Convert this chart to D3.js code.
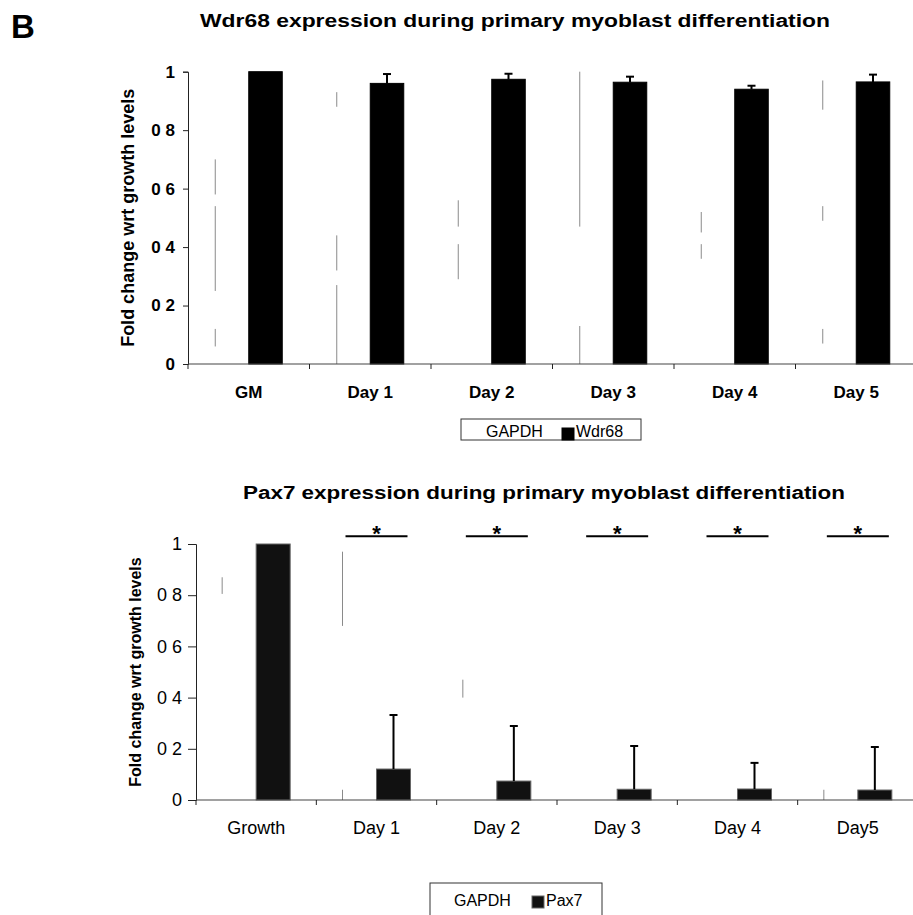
<!DOCTYPE html>
<html><head><meta charset="utf-8">
<script src="https://cdn.jsdelivr.net/npm/d3@7"></script>
<style>body{margin:0;background:#fff}svg{display:block}text{font-family:Arial,"Liberation Sans",sans-serif}</style>
</head><body><svg id="c" width="913" height="915"></svg>
<script>
// ---- Data ----
const topCategories = ["GM","Day 1","Day 2","Day 3","Day 4","Day 5"];
const topGapdh = [1,1,1,1,1,1];
const topWdr68 = [1.0,0.960,0.974,0.964,0.940,0.965];
const topWdr68Err = [0.0,0.032,0.019,0.019,0.012,0.025];
// faint visible fragments of the white GAPDH bars' left edges (value ranges)
const topGapdhEdge = [[[0.70,0.58],[0.54,0.25],[0.12,0.06]],[[0.93,0.88],[0.44,0.32],[0.27,0.0]],[[0.56,0.47],[0.41,0.29]],[[1.0,0.47],[0.13,0.0]],[[0.52,0.45],[0.41,0.36]],[[0.97,0.87],[0.54,0.49],[0.12,0.07]]];
const topTickValues = [0,0.2,0.4,0.6,0.8,1];
const topTickLabels = ["0","0 2","0 4","0 6","0 8","1"];

const botCategories = ["Growth","Day 1","Day 2","Day 3","Day 4","Day5"];
const botGapdh = [1,1,1,1,1,1];
const botPax7 = [1.0,0.121,0.074,0.042,0.043,0.039];
const botPax7Err = [0.0,0.211,0.215,0.169,0.102,0.168];
const botGapdhEdge = [[[0.87,0.805]],[[0.97,0.68],[0.04,0.0]],[[0.47,0.40]],[],[],[[0.04,0.0]]];
const botSignificant = [false,true,true,true,true,true];
const botTickValues = [0,0.2,0.4,0.6,0.8,1];
const botTickLabels = ["0","0 2","0 4","0 6","0 8","1"];

const svg = d3.select("#c");
const FF = 'Arial,"Liberation Sans",sans-serif';

svg.append("text").attr("x",11).attr("y",38).attr("font-size",33).attr("font-weight","bold").text("B");

function drawChart(o){
  const g = svg.append("g");
  const x = d3.scaleBand().domain(o.cats).range([o.left,o.right]).padding(0);
  const y = d3.scaleLinear().domain([0,1]).range([o.bottom,o.top]);
  const bw = o.barW;
  // title
  g.append("text").attr("x",o.titleX).attr("y",o.titleY).attr("text-anchor","middle")
    .attr("font-size",18).attr("font-weight","bold")
    .attr("textLength",o.titleW).attr("lengthAdjust","spacingAndGlyphs").text(o.title);
  // GAPDH white bars
  g.selectAll(".gap").data(o.cats).join("rect")
    .attr("x",d=>x(d)+x.bandwidth()/2-bw).attr("width",bw)
    .attr("y",(d,i)=>y(o.gapdh[i])).attr("height",(d,i)=>y(0)-y(o.gapdh[i]))
    .attr("fill","#fff");
  // faint edge fragments
  o.cats.forEach((c,i)=>{
    o.edges[i].forEach(s=>{
      g.append("line").attr("x1",x(c)+x.bandwidth()/2-bw).attr("x2",x(c)+x.bandwidth()/2-bw)
        .attr("y1",y(s[0])).attr("y2",y(s[1])).attr("stroke","#8a8a8a").attr("stroke-width",1);
    });
  });
  // series bars
  g.selectAll(".ser").data(o.cats).join("rect")
    .attr("x",d=>x(d)+x.bandwidth()/2).attr("width",bw)
    .attr("y",(d,i)=>y(o.vals[i])).attr("height",(d,i)=>y(0)-y(o.vals[i]))
    .attr("fill",o.fill).attr("stroke",o.stroke).attr("stroke-width",1);
  // error bars
  o.cats.forEach((c,i)=>{
    if(o.err[i]<=0) return;
    const cx = x(c)+x.bandwidth()/2+bw/2;
    g.append("line").attr("x1",cx).attr("x2",cx).attr("y1",y(o.vals[i])).attr("y2",y(o.vals[i]+o.err[i]))
      .attr("stroke","#000").attr("stroke-width",2);
    g.append("line").attr("x1",cx-4).attr("x2",cx+4).attr("y1",y(o.vals[i]+o.err[i])).attr("y2",y(o.vals[i]+o.err[i]))
      .attr("stroke","#000").attr("stroke-width",2);
  });
  // y axis
  const ya = g.append("g").attr("transform",`translate(${o.left},0)`)
    .call(d3.axisLeft(y).tickValues(o.tickValues).tickSize(o.tickLen).tickPadding(o.tickPad)
      .tickFormat((d,i)=>o.tickLabels[i]));
  ya.select(".domain").attr("stroke","#222");
  ya.selectAll(".tick line").attr("stroke","#222");
  ya.selectAll("text").attr("font-size",o.tickFont).attr("font-weight",o.tickWeight).attr("fill","#000").attr("font-family",FF);
  // x axis
  g.append("line").attr("x1",o.left).attr("x2",913).attr("y1",y(0)).attr("y2",y(0)).attr("stroke","#444").attr("stroke-width",1.2);
  o.cats.forEach(c=>{
    g.append("line").attr("x1",x(c)).attr("x2",x(c)).attr("y1",y(0)).attr("y2",y(0)+5).attr("stroke","#222");
    g.append("text").attr("x",x(c)+x.bandwidth()/2).attr("y",o.xLabY).attr("text-anchor","middle")
      .attr("font-size",o.xFont).attr("font-weight",o.xWeight).text(c);
  });
  // y label
  g.append("text").attr("transform",`translate(${o.yLabX},${(o.top+o.bottom)/2}) rotate(-90)`)
    .attr("text-anchor","middle").attr("font-size",o.yLabFont).attr("font-weight","bold").text(o.yLabel);
  // significance
  if(o.sig){
    o.cats.forEach((c,i)=>{
      if(!o.sig[i]) return;
      const cx = x(c)+x.bandwidth()/2;
      g.append("line").attr("x1",cx-31).attr("x2",cx+31).attr("y1",y(1.03)).attr("y2",y(1.03)).attr("stroke","#000").attr("stroke-width",2);
      g.append("text").attr("x",cx).attr("y",y(1.03)+5).attr("text-anchor","middle").attr("font-size",22).attr("font-weight","bold").text("*");
    });
  }
  // legend
  const L = o.legend;
  g.append("rect").attr("x",L.x).attr("y",L.y).attr("width",L.w).attr("height",L.h).attr("fill","#fff").attr("stroke","#333").attr("stroke-width",1);
  g.append("text").attr("x",L.tx).attr("y",L.ty).attr("font-size",16).text("GAPDH");
  g.append("rect").attr("x",L.sx).attr("y",L.sy).attr("width",L.ss).attr("height",L.ss).attr("fill",o.fill).attr("stroke",o.stroke);
  g.append("text").attr("x",L.sx+L.ss+2).attr("y",L.ty).attr("font-size",16).text(o.series);
}

drawChart({cats:topCategories,gapdh:topGapdh,vals:topWdr68,err:topWdr68Err,edges:topGapdhEdge,
  left:188,right:917,top:71.7,bottom:364,barW:33.5,fill:"#000",stroke:"#000",
  title:"Wdr68 expression during primary myoblast differentiation",titleX:515,titleY:27,titleW:630,
  tickValues:topTickValues,tickLabels:topTickLabels,tickLen:5,tickPad:8,tickFont:17,tickWeight:"bold",
  xLabY:398,xFont:17,xWeight:"bold",yLabX:134,yLabFont:18,yLabel:"Fold change wrt growth levels",
  series:"Wdr68",legend:{x:461,y:419,w:180,h:21,tx:486,ty:437,sx:562,sy:428,ss:12}});

drawChart({cats:botCategories,gapdh:botGapdh,vals:botPax7,err:botPax7Err,edges:botGapdhEdge,sig:botSignificant,
  left:196,right:918,top:544,bottom:800,barW:34,fill:"#111",stroke:"#666",
  title:"Pax7 expression during primary myoblast differentiation",titleX:544,titleY:499,titleW:602,
  tickValues:botTickValues,tickLabels:botTickLabels,tickLen:8,tickPad:6,tickFont:18,tickWeight:"normal",
  xLabY:834,xFont:18,xWeight:"normal",yLabX:141,yLabFont:16,yLabel:"Fold change wrt growth levels",
  series:"Pax7",legend:{x:430,y:883,w:172,h:40,tx:454,ty:906,sx:532,sy:896,ss:12}});
</script></body></html>
